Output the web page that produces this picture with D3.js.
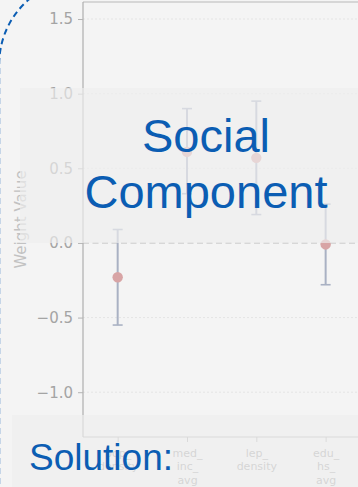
<!DOCTYPE html>
<html>
<head>
<meta charset="utf-8">
<script src="https://cdn.jsdelivr.net/npm/d3@7"></script>
<style>
  html, body { margin: 0; padding: 0; background: #f4f4f4; overflow: hidden; }
  svg { display: block; }
</style>
</head>
<body>
<svg id="chart" width="358" height="487"></svg>
<script>
// Feature weights with their confidence intervals
const categories = ["pop_\ndensity", "med_\ninc_\navg", "lep_\ndensity", "edu_\nhs_\navg"];
const weights = [-0.23, 0.61, 0.57, -0.01];
const lowerCI = [-0.55, 0.33, 0.19, -0.28];
const upperCI = [0.09, 0.90, 0.95, 0.26];
const yTicks = [-1.0, -0.5, 0.0, 0.5, 1.0, 1.5];

const W = 358, H = 487;
const plot = { left: 83, right: 360.3, top: 2, bottom: 437 };

const svg = d3.select("#chart");

const x = d3.scalePoint().domain(categories).range([plot.left, plot.right]).padding(0.5);
const y = d3.scaleLinear().domain([-1.30, 1.614]).range([plot.bottom, plot.top]);

const tickFont = "'DejaVu Sans', sans-serif";
const chart = svg.append("g");

// faint horizontal grid
chart.append("g").selectAll("line").data(yTicks.filter(d => d !== 0)).join("line")
  .attr("x1", plot.left).attr("x2", W)
  .attr("y1", d => y(d)).attr("y2", d => y(d))
  .attr("stroke", "#e4e4e4").attr("stroke-width", 1).attr("stroke-dasharray", "2,2");

// zero reference line
chart.append("line")
  .attr("x1", plot.left).attr("x2", W)
  .attr("y1", y(0)).attr("y2", y(0))
  .attr("stroke", "#cdcdcd").attr("stroke-width", 1.5).attr("stroke-dasharray", "6,3.5");

// spines
chart.append("line").attr("x1", plot.left).attr("x2", W).attr("y1", plot.top).attr("y2", plot.top)
  .attr("stroke", "#b8b8b8").attr("stroke-width", 1.2);
chart.append("line").attr("x1", plot.left).attr("x2", W).attr("y1", plot.bottom).attr("y2", plot.bottom)
  .attr("stroke", "#b0b0b0").attr("stroke-width", 1.2);

// y axis
const yAxis = d3.axisLeft(y).tickValues(yTicks).tickSize(5).tickPadding(5)
  .tickFormat(d => d3.format(".1f")(d).replace("-", "\u2212"));
const gy = chart.append("g").attr("transform", `translate(${plot.left},0)`).call(yAxis);
gy.select(".domain").attr("stroke", "#aeaeae").attr("stroke-width", 1.2)
  .attr("d", `M0,${plot.top}V${plot.bottom}`);
gy.selectAll(".tick line").attr("stroke", "#b4b4b4").attr("stroke-width", 1);
gy.selectAll(".tick text").attr("fill", "#a4a4a4").attr("font-family", tickFont).attr("font-size", 15);

// x axis with multi-line labels
const xAxis = d3.axisBottom(x).tickSize(5).tickFormat("");
const gx = chart.append("g").attr("transform", `translate(0,${plot.bottom})`).call(xAxis);
gx.select(".domain").remove();
gx.selectAll(".tick line").attr("stroke", "#b4b4b4");
gx.selectAll(".tick").each(function(d) {
  const t = d3.select(this).append("text")
    .attr("text-anchor", "middle").attr("fill", "#a4a4a4")
    .attr("font-family", tickFont).attr("font-size", 11);
  d.split("\n").forEach((line, i) => {
    t.append("tspan").attr("x", 0).attr("y", 20 + i * 13.3).text(line);
  });
});

// y axis title
chart.append("text")
  .attr("transform", `translate(26,${(plot.top + plot.bottom) / 2}) rotate(-90)`)
  .attr("text-anchor", "middle").attr("fill", "#c2c2c2")
  .attr("font-family", tickFont).attr("font-size", 15)
  .text("Weight Value");

// error bars and points
const rows = categories.map((c, i) => ({ c, w: weights[i], lo: lowerCI[i], hi: upperCI[i] }));
const eb = chart.append("g").selectAll("g").data(rows).join("g");
eb.append("line")
  .attr("x1", d => x(d.c)).attr("x2", d => x(d.c))
  .attr("y1", d => y(d.lo)).attr("y2", d => y(d.hi))
  .attr("stroke", "#a9b1c3").attr("stroke-width", 2);
[["lo"], ["hi"]].forEach(([k]) => {
  eb.append("line")
    .attr("x1", d => x(d.c) - 5).attr("x2", d => x(d.c) + 5)
    .attr("y1", d => y(d[k])).attr("y2", d => y(d[k]))
    .attr("stroke", "#a9b1c3").attr("stroke-width", 1.6);
});
eb.append("circle")
  .attr("cx", d => x(d.c)).attr("cy", d => y(d.w)).attr("r", 5.2)
  .attr("fill", "#d8a4a5");

// translucent panels behind the captions
svg.append("rect").attr("x", 20).attr("y", 88).attr("width", W - 20).attr("height", 155)
  .attr("fill", "rgb(238,238,238)").attr("fill-opacity", 0.66);
svg.append("rect").attr("x", 12).attr("y", 415).attr("width", W - 12).attr("height", H - 415)
  .attr("fill", "rgb(238,238,238)").attr("fill-opacity", 0.66);

// captions
const capFont = "'Liberation Sans', Arial, sans-serif";
const blue = "#0b5db3";
svg.append("text").attr("x", 206).attr("y", 152).attr("text-anchor", "middle")
  .attr("font-family", capFont).attr("font-size", 47).attr("fill", blue).text("Social");
svg.append("text").attr("x", 206).attr("y", 208).attr("text-anchor", "middle")
  .attr("font-family", capFont).attr("font-size", 47).attr("fill", blue).text("Component");
svg.append("text").attr("x", 29).attr("y", 470)
  .attr("font-family", capFont).attr("font-size", 37).attr("fill", blue).text("Solution:");

// dashed rounded frame
svg.append("rect").attr("x", -0.8).attr("y", -21).attr("width", 500).attr("height", 600)
  .attr("rx", 85).attr("ry", 85)
  .attr("fill", "none").attr("stroke", blue).attr("stroke-width", 2)
  .attr("stroke-dasharray", "6,4");
</script>
</body>
</html>
